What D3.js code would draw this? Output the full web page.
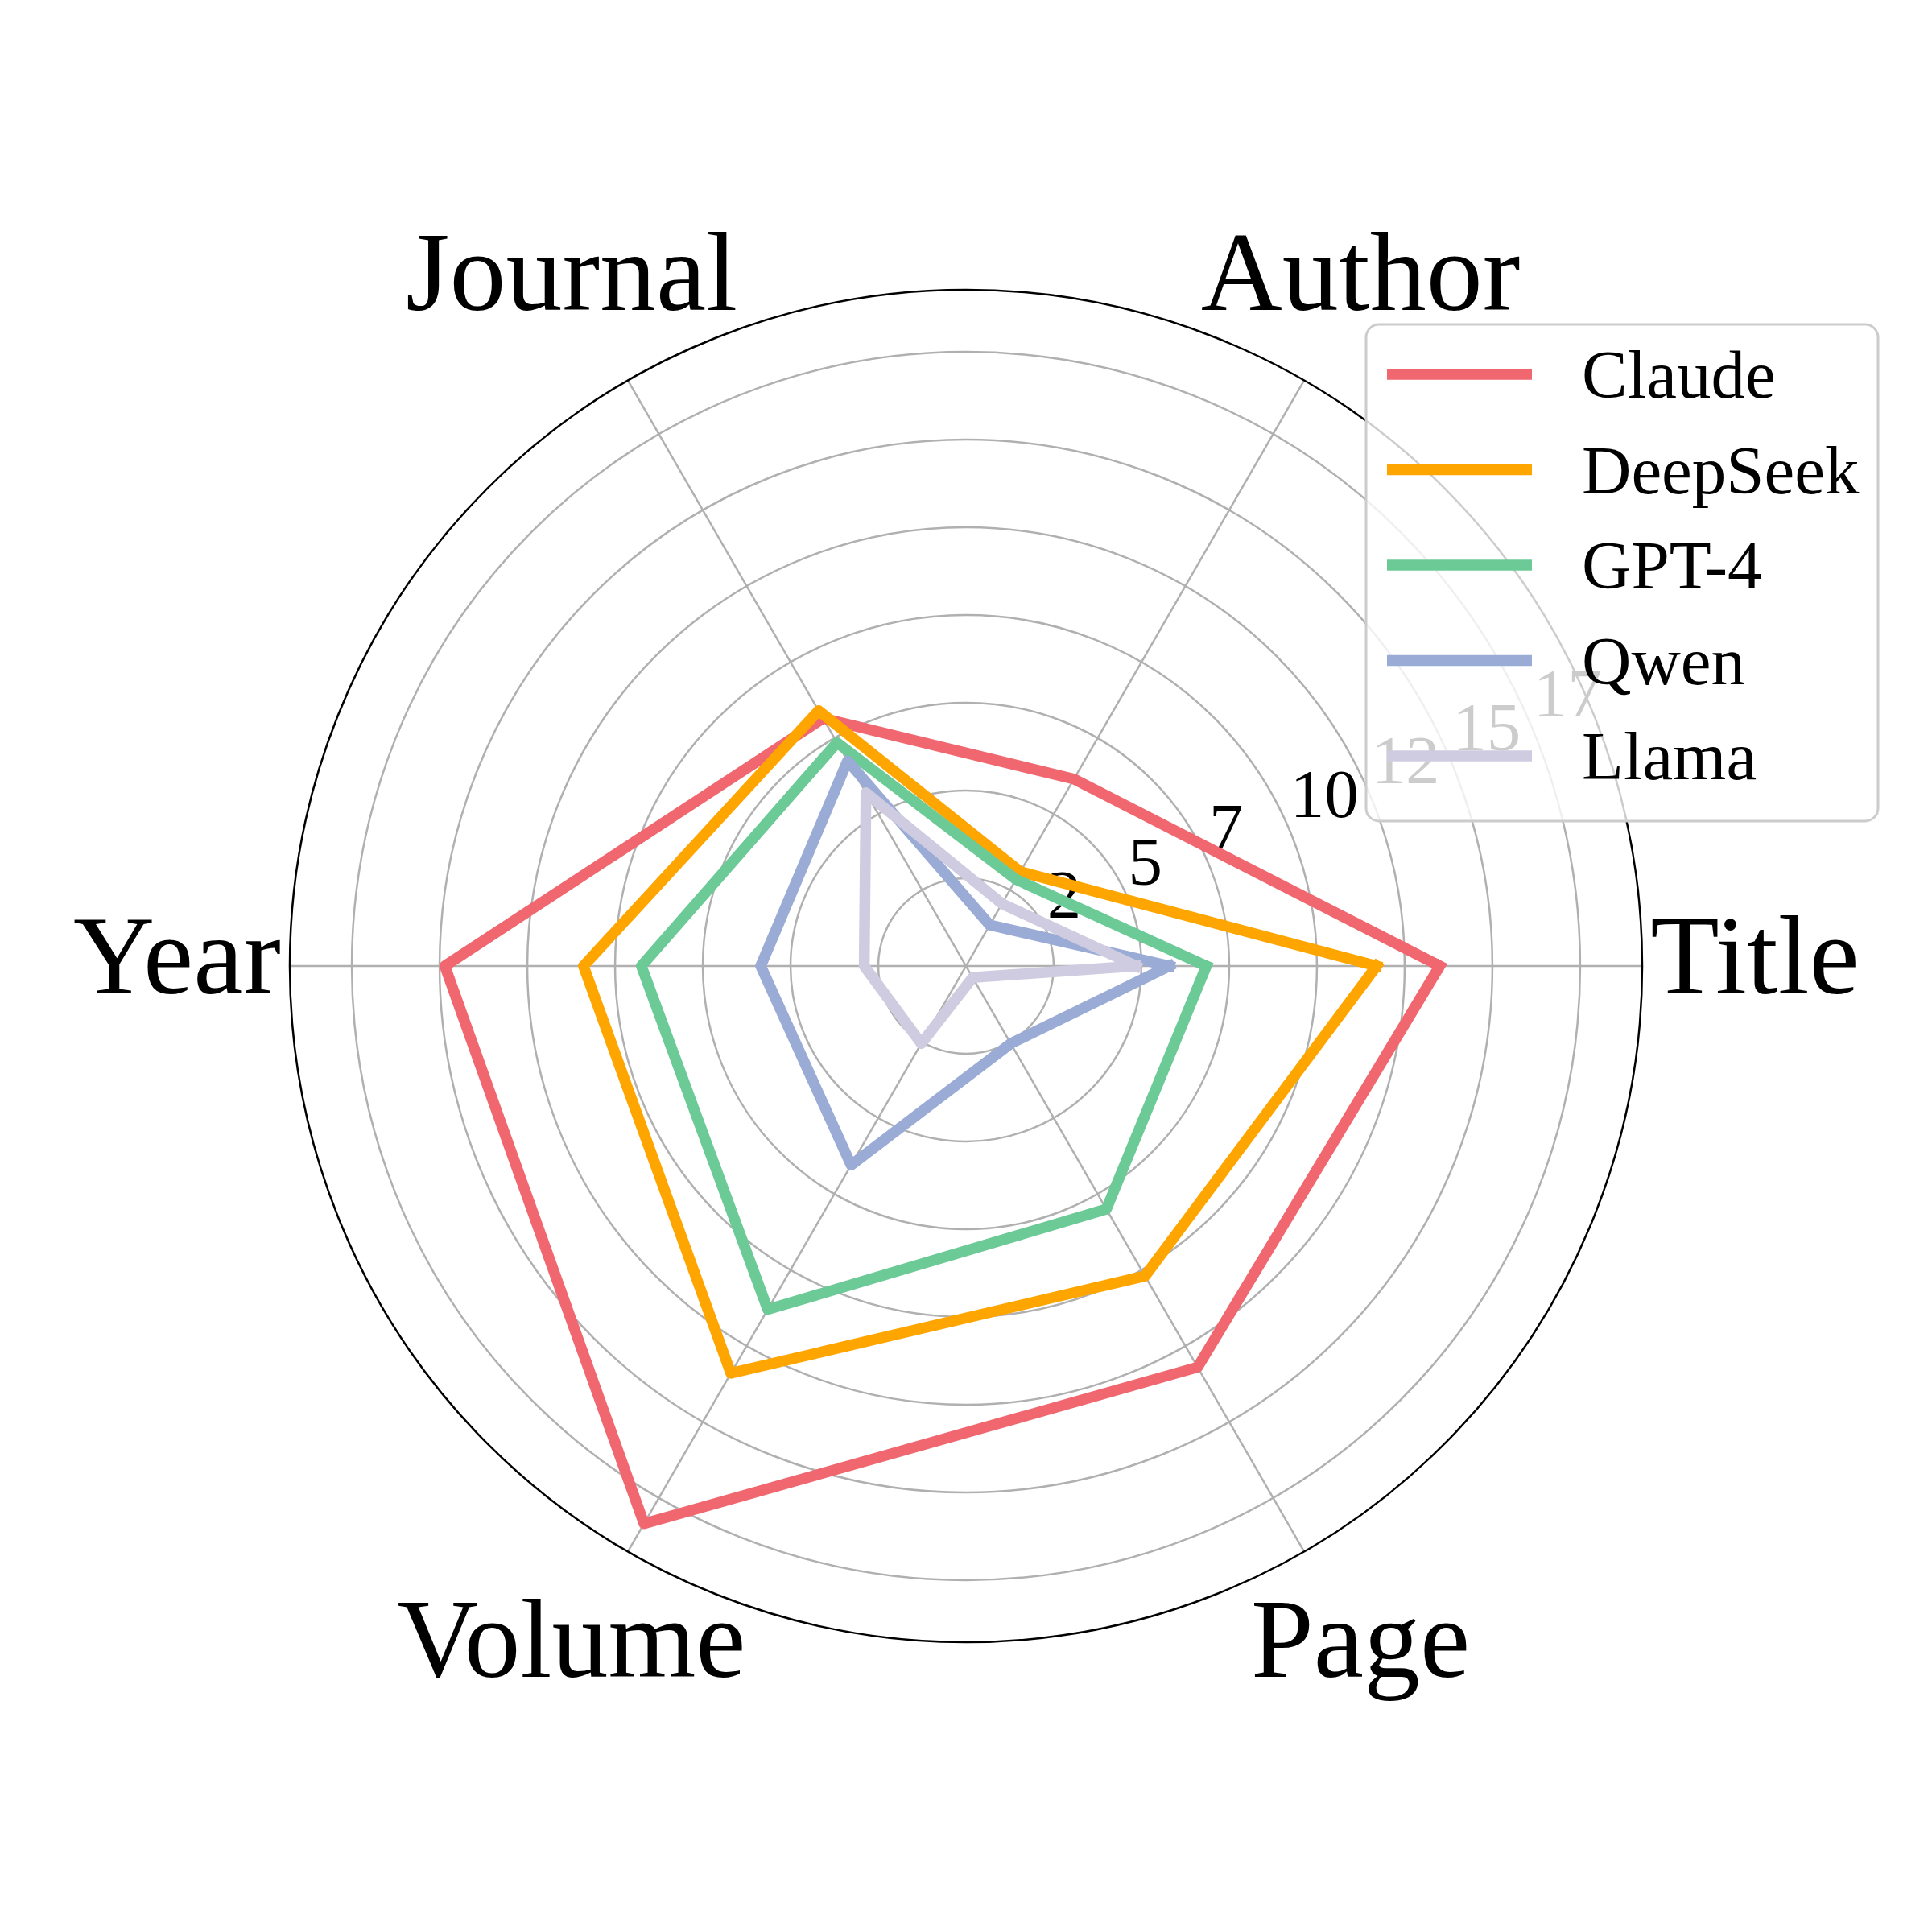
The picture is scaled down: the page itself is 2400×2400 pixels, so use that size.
<!DOCTYPE html>
<html>
<head>
<meta charset="utf-8">
<script src="https://cdn.jsdelivr.net/npm/d3@7"></script>
<style>
  body { margin: 0; background: #fff; }
  text { font-family: "Liberation Serif", "Times New Roman", serif; }
</style>
</head>
<body>
<div id="chart"></div>
<script>
// axes of the radar, counter-clockwise from the right
var categories = ["Title", "Author", "Journal", "Year", "Volume", "Page"];
var models = ["Claude", "DeepSeek", "GPT-4", "Qwen", "Llama"];
var colors = ["#F0676F", "#FFA500", "#6CCA96", "#9AABD6", "#CFCBE0"];

var claude   = [13.5, 6.15, 8.15, 14.85, 18.35, 13.2];
var deepseek = [11.7, 3.1, 8.4, 10.9, 13.4, 10.2];
var gpt4     = [6.85, 2.85, 7.35, 9.25, 11.3, 8.0];
var qwen     = [5.8, 1.35, 6.75, 5.85, 6.55, 2.55];
var llama    = [4.85, 2.05, 5.7, 2.9, 2.55, 0.38];

var rTicks = [2.5, 5, 7.5, 10, 12.5, 15, 17.5];
var rTickLabels = ["2", "5", "7", "10", "12", "15", "17"];

var series = [claude, deepseek, gpt4, qwen, llama];

var width = 2400, height = 2400;
var cx = 1200, cy = 1200, outer = 840;
var rMax = d3.max(series, function(s) { return d3.max(s); }) * 1.05;

var r = d3.scaleLinear().domain([0, rMax]).range([0, outer]);
// d3 angles: 0 at 12 o'clock, clockwise. category i sits at 60*i deg counter-clockwise from 3 o'clock
var angle = d3.scaleLinear().domain([0, categories.length])
    .range([Math.PI / 2, Math.PI / 2 - 2 * Math.PI]);

var svg = d3.select("#chart").append("svg")
    .attr("width", width)
    .attr("height", height)
  .append("g")
    .attr("transform", "translate(" + cx + "," + cy + ")");

// grid rings
svg.selectAll(".ring")
    .data(rTicks)
  .enter().append("circle")
    .attr("r", function(d) { return r(d); })
    .attr("fill", "none")
    .attr("stroke", "#b0b0b0")
    .attr("stroke-width", 2.5);

// spokes
svg.selectAll(".spoke")
    .data(categories)
  .enter().append("line")
    .attr("x1", 0).attr("y1", 0)
    .attr("x2", function(d, i) { return d3.pointRadial(angle(i), outer)[0]; })
    .attr("y2", function(d, i) { return d3.pointRadial(angle(i), outer)[1]; })
    .attr("stroke", "#b0b0b0")
    .attr("stroke-width", 2.5);

// outer frame
svg.append("circle")
    .attr("r", outer)
    .attr("fill", "none")
    .attr("stroke", "#000")
    .attr("stroke-width", 2.5);

// radial tick labels at 22.5 deg
var labAngle = Math.PI / 2 - Math.PI / 8;
svg.selectAll(".rlab")
    .data(rTicks)
  .enter().append("text")
    .attr("x", function(d) { return d3.pointRadial(labAngle, r(d))[0]; })
    .attr("y", function(d) { return d3.pointRadial(labAngle, r(d))[1] - 18; })
    .attr("font-size", 85)
    .attr("fill", "#000")
    .text(function(d, i) { return rTickLabels[i]; });

// category labels
svg.selectAll(".cat")
    .data(categories)
  .enter().append("text")
    .attr("x", function(d, i) { return d3.pointRadial(angle(i), 980)[0]; })
    .attr("y", function(d, i) { return d3.pointRadial(angle(i), 980)[1] + 34; })
    .attr("text-anchor", "middle")
    .attr("font-size", 140)
    .attr("fill", "#000")
    .text(function(d) { return d; });

// series lines (closed by repeating the first point)
var radarLine = d3.lineRadial()
    .angle(function(d, i) { return angle(i); })
    .radius(function(d) { return r(d); });

series.forEach(function(s, k) {
  svg.append("path")
      .datum(s.concat([s[0]]))
      .attr("d", radarLine)
      .attr("fill", "none")
      .attr("stroke", colors[k])
      .attr("stroke-width", 13.5)
      .attr("stroke-linejoin", "round")
      .attr("stroke-linecap", "square");
});

// legend
var leg = d3.select("svg").append("g")
    .attr("transform", "translate(1697,403)");

leg.append("rect")
    .attr("width", 636)
    .attr("height", 617)
    .attr("rx", 16)
    .attr("fill", "#fff")
    .attr("fill-opacity", 0.8)
    .attr("stroke", "#cccccc")
    .attr("stroke-width", 3);

models.forEach(function(m, k) {
  var y = 62 + k * 118.5;
  leg.append("line")
      .attr("x1", 26).attr("x2", 206)
      .attr("y1", y).attr("y2", y)
      .attr("stroke", colors[k])
      .attr("stroke-width", 13.5);
  leg.append("text")
      .attr("x", 268)
      .attr("y", y + 29)
      .attr("font-size", 85)
      .attr("fill", "#000")
      .text(m);
});
</script>
</body>
</html>
